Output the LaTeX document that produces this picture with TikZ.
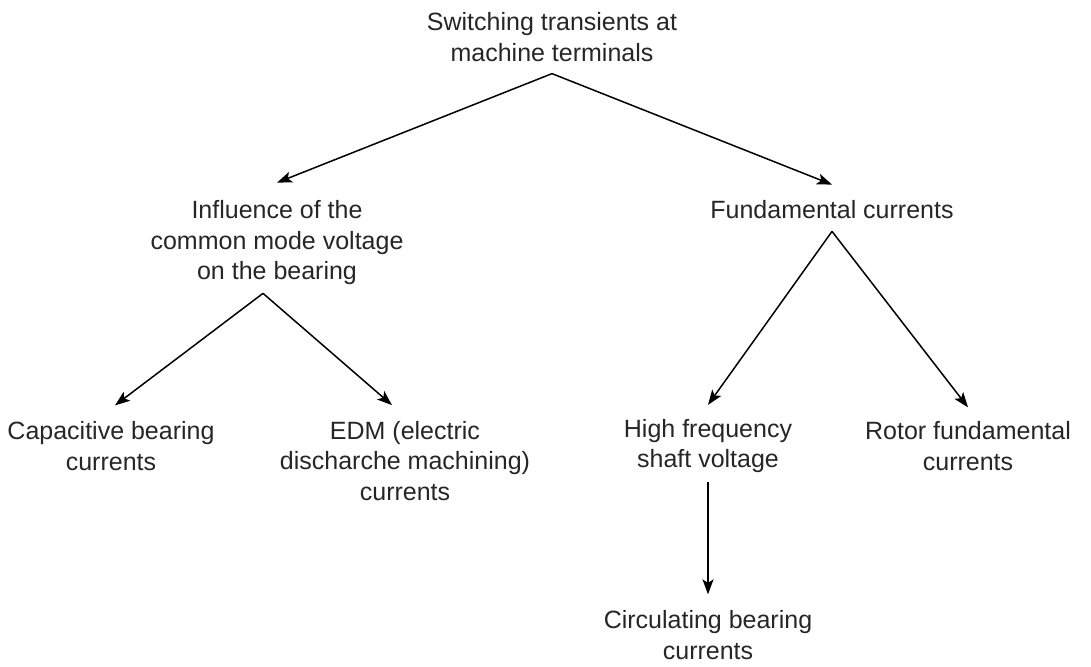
\documentclass[tikz,border=0pt]{standalone}
\usepackage{fontspec}
\setmainfont{Liberation Sans}
\usetikzlibrary{arrows.meta, positioning}
\tikzstyle{chart}=[on grid]
\tikzstyle{item}=[align=center, inner sep=0pt, text=black!85, font=\fontsize{25}{30.5}\selectfont]
\tikzstyle{flow}=[line width=1.5pt, -{Stealth[length=15pt, width=11pt, inset=3.5pt]}]

\begin{document}
\begin{tikzpicture}[chart]
  \useasboundingbox (0,0) rectangle (1091pt,-666pt);
  \node[item] (top) at (552pt,-37pt) {Switching transients at\\machine terminals};
  \node[item] (infl) [below left=206pt and 275pt of top] {Influence of the\\common mode voltage\\on the bearing};
  \node[item] (fund) [below right=173pt and 280pt of top] {Fundamental currents};
  \node[item] (cap) [below left=203pt and 166pt of infl] {Capacitive bearing\\currents};
  \node[item] (edm) [below right=218pt and 128pt of infl] {EDM (electric\\discharche machining)\\currents};
  \node[item] (hf) [below left=236pt and 124pt of fund] {High frequency\\shaft voltage};
  \node[item] (rotor) [below right=236pt and 136pt of fund] {Rotor fundamental\\currents};
  \node[item] (circ) [below=189pt of hf] {Circulating bearing\\currents};
  \draw[flow] ([yshift=-12pt]top.south) -- ([yshift=18pt]infl.north);
  \draw[flow] ([yshift=-12pt]top.south) -- ([yshift=16pt]fund.north);
  \draw[flow] ([xshift=-14pt,yshift=-8pt]infl.south) -- ([xshift=4pt,yshift=16pt]cap.north);
  \draw[flow] ([xshift=-14pt,yshift=-8pt]infl.south) -- ([xshift=-13pt,yshift=16pt]edm.north);
  \draw[flow] ([yshift=-12pt]fund.south) -- ([yshift=14pt]hf.north);
  \draw[flow] ([yshift=-12pt]fund.south) -- ([yshift=14pt]rotor.north);
  \draw[flow] ([yshift=-9pt]hf.south) -- ([yshift=16pt]circ.north);
\end{tikzpicture}
\end{document}
